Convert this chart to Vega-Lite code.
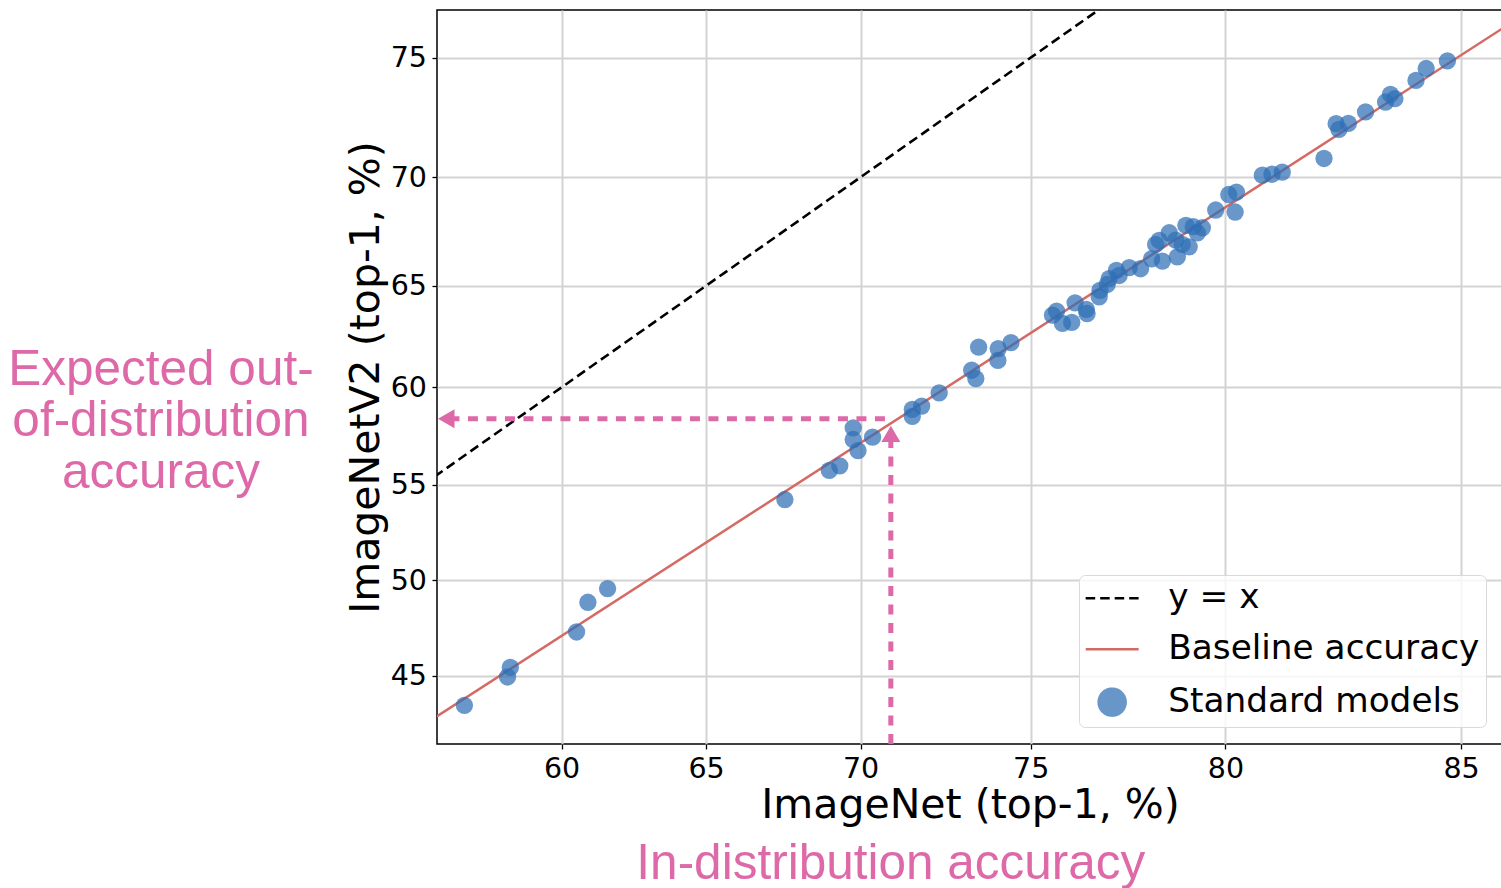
{
  "$schema": "https://vega.github.io/schema/vega-lite/v6.json",
  "width": 1066,
  "height": 734,
  "autosize": {"type": "none"},
  "padding": {"left": 437, "top": 10, "right": 0, "bottom": 144},
  "background": "white",
  "config": {
    "font": "DejaVu Sans",
    "view": {"stroke": "black", "strokeWidth": 1.5},
    "axis": {
      "domain": false,
      "grid": true,
      "gridColor": "#d3d3d3",
      "gridWidth": 2,
      "ticks": true,
      "tickColor": "black",
      "tickSize": 5,
      "tickWidth": 1.3,
      "labelFont": "DejaVu Sans",
      "labelFontSize": 28.5,
      "labelColor": "black",
      "labelPadding": 5.5,
      "labelFlush": false,
      "labelOverlap": false,
      "titleFont": "DejaVu Sans",
      "titleFontSize": 41,
      "titleFontWeight": "normal",
      "titleColor": "black"
    }
  },
  "encoding": {
    "x": {
      "field": "lx",
      "type": "quantitative",
      "scale": {"domain": [0.2214, 1.7965], "nice": false, "zero": false},
      "axis": {
        "values": [0.4054651, 0.6190392, 0.8472979, 1.0986123, 1.3862944, 1.7346011],
        "labelExpr": "format(100/(1+exp(-datum.value)), '.0f')",
        "title": "ImageNet (top-1, %)",
        "titlePadding": 2
      }
    },
    "y": {
      "field": "ly",
      "type": "quantitative",
      "scale": {"domain": [-0.3444, 1.1988], "nice": false, "zero": false},
      "axis": {
        "values": [-0.2006707, 0, 0.2006707, 0.4054651, 0.6190392, 0.8472979, 1.0986123],
        "labelExpr": "format(100/(1+exp(-datum.value)), '.0f')",
        "title": "ImageNetV2 (top-1, %)",
        "titlePadding": 3
      }
    }
  },
  "layer": [
    {
      "data": {"values": [{"x": 55, "y": 55}, {"x": 80, "y": 80}]},
      "transform": [
        {"calculate": "log(datum.x/(100-datum.x))", "as": "lx"},
        {"calculate": "log(datum.y/(100-datum.y))", "as": "ly"}
      ],
      "mark": {"type": "line", "clip": true, "strokeDash": [9.5, 5], "strokeWidth": 2.6},
      "encoding": {
        "color": {
          "datum": "y = x",
          "type": "nominal",
          "scale": {
            "domain": ["y = x", "Baseline accuracy", "Standard models"],
            "range": ["#000000", "#d46a64", "#2f6fb5"]
          },
          "legend": {
            "title": null,
            "orient": "bottom-right",
            "offset": 17,
            "padding": 6,
            "rowPadding": 16,
            "labelFont": "DejaVu Sans",
            "labelFontSize": 34.3,
            "labelColor": "black",
            "labelOffset": 39,
            "labelLimit": 600,
            "symbolSize": 729,
            "symbolOffset": 10,
            "symbolStrokeWidth": 2.5,
            "fillColor": "rgba(255,255,255,0.8)",
            "strokeColor": "#d9d9d9",
            "cornerRadius": 6,
            "encode": {
              "symbols": {
                "update": {
                  "shape": {"signal": "datum.value === 'Standard models' ? 'circle' : 'M-1.96,0H1.96'"},
                  "fill": {"signal": "datum.value === 'Standard models' ? '#2f6fb5' : 'transparent'"},
                  "stroke": {"signal": "datum.value === 'y = x' ? '#000000' : (datum.value === 'Baseline accuracy' ? '#d46a64' : 'transparent')"},
                  "strokeDash": {"signal": "datum.value === 'y = x' ? [9.5, 5] : [1, 0]"},
                  "opacity": {"signal": "datum.value === 'Standard models' ? 0.72 : 1"},
                  "strokeWidth": {"value": 2.5}
                }
              }
            }
          }
        }
      }
    },
    {
      "data": {"values": [{"x": 55, "y": 42.43}, {"x": 86, "y": 76.46}]},
      "transform": [
        {"calculate": "log(datum.x/(100-datum.x))", "as": "lx"},
        {"calculate": "log(datum.y/(100-datum.y))", "as": "ly"}
      ],
      "mark": {"type": "line", "clip": true, "strokeWidth": 2.5},
      "encoding": {"color": {"datum": "Baseline accuracy", "type": "nominal"}}
    },
    {
      "data": {"values": [
        {"x": 56.51, "y": 43.46}, {"x": 58.07, "y": 44.93}, {"x": 58.17, "y": 45.43},
        {"x": 60.53, "y": 47.28}, {"x": 60.93, "y": 48.84}, {"x": 61.62, "y": 49.56},
        {"x": 67.60, "y": 54.23}, {"x": 69.02, "y": 55.75}, {"x": 69.35, "y": 55.98},
        {"x": 69.77, "y": 57.94}, {"x": 69.77, "y": 57.34}, {"x": 69.92, "y": 56.77},
        {"x": 70.37, "y": 57.46}, {"x": 71.58, "y": 58.88}, {"x": 71.58, "y": 58.53},
        {"x": 71.86, "y": 59.05}, {"x": 72.38, "y": 59.72}, {"x": 73.33, "y": 60.86},
        {"x": 73.45, "y": 60.44}, {"x": 73.53, "y": 62.01}, {"x": 74.09, "y": 61.94},
        {"x": 74.08, "y": 61.35}, {"x": 74.45, "y": 62.23}, {"x": 75.60, "y": 63.58},
        {"x": 75.71, "y": 63.78}, {"x": 75.87, "y": 63.18}, {"x": 76.12, "y": 63.23},
        {"x": 76.21, "y": 64.18}, {"x": 76.51, "y": 63.86}, {"x": 76.53, "y": 63.66},
        {"x": 76.85, "y": 64.47}, {"x": 76.87, "y": 64.78}, {"x": 77.06, "y": 65.06},
        {"x": 77.11, "y": 65.34}, {"x": 77.30, "y": 65.73}, {"x": 77.37, "y": 65.49},
        {"x": 77.63, "y": 65.86}, {"x": 77.92, "y": 65.81}, {"x": 78.20, "y": 66.28},
        {"x": 78.47, "y": 66.17}, {"x": 78.30, "y": 66.95}, {"x": 78.39, "y": 67.14},
        {"x": 78.64, "y": 67.49}, {"x": 78.80, "y": 67.15}, {"x": 78.84, "y": 66.37},
        {"x": 78.96, "y": 66.95}, {"x": 79.05, "y": 67.83}, {"x": 79.13, "y": 66.84},
        {"x": 79.23, "y": 67.77}, {"x": 79.33, "y": 67.49}, {"x": 79.45, "y": 67.72},
        {"x": 79.77, "y": 68.53}, {"x": 80.08, "y": 69.23}, {"x": 80.26, "y": 69.34},
        {"x": 80.23, "y": 68.44}, {"x": 80.86, "y": 70.09}, {"x": 81.08, "y": 70.13},
        {"x": 81.31, "y": 70.22}, {"x": 82.23, "y": 70.82}, {"x": 82.49, "y": 72.31},
        {"x": 82.55, "y": 72.07}, {"x": 82.75, "y": 72.32}, {"x": 83.11, "y": 72.80},
        {"x": 83.52, "y": 73.21}, {"x": 83.62, "y": 73.52}, {"x": 83.71, "y": 73.35},
        {"x": 84.13, "y": 74.09}, {"x": 84.33, "y": 74.57}, {"x": 84.74, "y": 74.87}
      ]},
      "transform": [
        {"calculate": "log(datum.x/(100-datum.x))", "as": "lx"},
        {"calculate": "log(datum.y/(100-datum.y))", "as": "ly"}
      ],
      "mark": {"type": "circle", "size": 300, "opacity": 0.72},
      "encoding": {"color": {"datum": "Standard models", "type": "nominal"}}
    },
    {
      "data": {"values": [
        {"x": 70.75, "y": 58.40, "x2": 56.03, "y2": 58.40},
        {"x": 70.93, "y": 41.47, "x2": 70.93, "y2": 57.34}
      ]},
      "transform": [
        {"calculate": "log(datum.x/(100-datum.x))", "as": "lx"},
        {"calculate": "log(datum.y/(100-datum.y))", "as": "ly"},
        {"calculate": "log(datum.x2/(100-datum.x2))", "as": "lx2"},
        {"calculate": "log(datum.y2/(100-datum.y2))", "as": "ly2"}
      ],
      "mark": {"type": "rule", "color": "#de69a8", "strokeWidth": 5, "strokeDash": [10, 8.5], "strokeCap": "butt"},
      "encoding": {
        "x2": {"field": "lx2"},
        "y2": {"field": "ly2"}
      }
    },
    {
      "data": {"values": [{"x": 55.85, "y": 58.40}]},
      "transform": [
        {"calculate": "log(datum.x/(100-datum.x))", "as": "lx"},
        {"calculate": "log(datum.y/(100-datum.y))", "as": "ly"}
      ],
      "mark": {"type": "point", "shape": "triangle-left", "filled": true, "size": 361, "color": "#de69a8", "opacity": 1}
    },
    {
      "data": {"values": [{"x": 70.93, "y": 57.63}]},
      "transform": [
        {"calculate": "log(datum.x/(100-datum.x))", "as": "lx"},
        {"calculate": "log(datum.y/(100-datum.y))", "as": "ly"}
      ],
      "mark": {"type": "point", "shape": "triangle-up", "filled": true, "size": 361, "color": "#de69a8", "opacity": 1}
    },
    {
      "data": {"values": [{"x": 70.93, "y": 41.47}]},
      "transform": [
        {"calculate": "log(datum.x/(100-datum.x))", "as": "lx"},
        {"calculate": "log(datum.y/(100-datum.y))", "as": "ly"}
      ],
      "mark": {"type": "text", "text": "In-distribution accuracy", "font": "Liberation Sans", "fontSize": 49.5, "color": "#de69a8", "align": "center", "baseline": "alphabetic", "dy": 135}
    },
    {
      "data": {"values": [{"x": 55.51, "y": 58.40}]},
      "transform": [
        {"calculate": "log(datum.x/(100-datum.x))", "as": "lx"},
        {"calculate": "log(datum.y/(100-datum.y))", "as": "ly"}
      ],
      "mark": {"type": "text", "text": ["Expected out-", "of-distribution", "accuracy"], "font": "Liberation Sans", "fontSize": 49.5, "lineHeight": 51.5, "color": "#de69a8", "align": "center", "baseline": "alphabetic", "dx": -276, "dy": -34}
    }
  ]
}
